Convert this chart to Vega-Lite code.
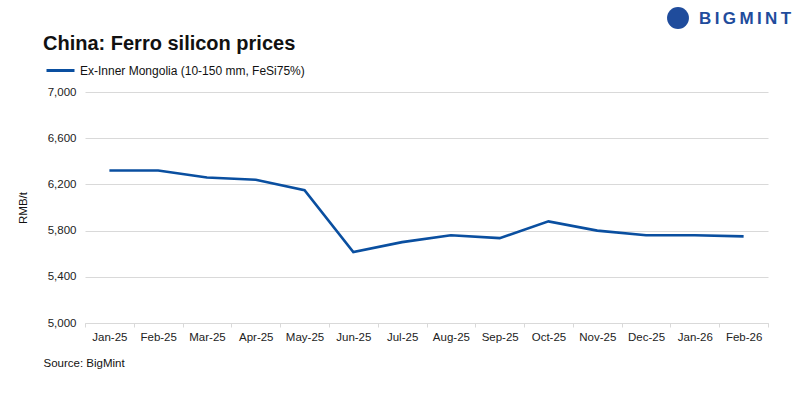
{
  "$schema": "https://vega.github.io/schema/vega-lite/v6.json",
  "width": 683,
  "height": 231,
  "autosize": "none",
  "padding": {"left": 85, "top": 92, "right": 32, "bottom": 76},
  "background": "white",
  "config": {
    "font": "Liberation Sans",
    "view": {"stroke": null}
  },
  "title": {
    "text": "China: Ferro silicon prices",
    "anchor": "start",
    "frame": "group",
    "dx": -42,
    "offset": -47,
    "fontSize": 20,
    "fontWeight": "bold",
    "color": "#111111",
    "font": "Liberation Sans"
  },
  "data": {
    "values": [
      {"month": "Jan-25", "price": 6320, "series": "Ex-Inner Mongolia (10-150 mm, FeSi75%)"},
      {"month": "Feb-25", "price": 6320, "series": "Ex-Inner Mongolia (10-150 mm, FeSi75%)"},
      {"month": "Mar-25", "price": 6260, "series": "Ex-Inner Mongolia (10-150 mm, FeSi75%)"},
      {"month": "Apr-25", "price": 6240, "series": "Ex-Inner Mongolia (10-150 mm, FeSi75%)"},
      {"month": "May-25", "price": 6150, "series": "Ex-Inner Mongolia (10-150 mm, FeSi75%)"},
      {"month": "Jun-25", "price": 5615, "series": "Ex-Inner Mongolia (10-150 mm, FeSi75%)"},
      {"month": "Jul-25", "price": 5700, "series": "Ex-Inner Mongolia (10-150 mm, FeSi75%)"},
      {"month": "Aug-25", "price": 5760, "series": "Ex-Inner Mongolia (10-150 mm, FeSi75%)"},
      {"month": "Sep-25", "price": 5735, "series": "Ex-Inner Mongolia (10-150 mm, FeSi75%)"},
      {"month": "Oct-25", "price": 5880, "series": "Ex-Inner Mongolia (10-150 mm, FeSi75%)"},
      {"month": "Nov-25", "price": 5800, "series": "Ex-Inner Mongolia (10-150 mm, FeSi75%)"},
      {"month": "Dec-25", "price": 5760, "series": "Ex-Inner Mongolia (10-150 mm, FeSi75%)"},
      {"month": "Jan-26", "price": 5760, "series": "Ex-Inner Mongolia (10-150 mm, FeSi75%)"},
      {"month": "Feb-26", "price": 5750, "series": "Ex-Inner Mongolia (10-150 mm, FeSi75%)"}
    ]
  },
  "layer": [
    {
      "mark": {"type": "line", "strokeWidth": 2.6, "strokeJoin": "miter"},
      "encoding": {
        "x": {
          "field": "month",
          "type": "ordinal",
          "sort": null,
          "scale": {"type": "band", "paddingInner": 0, "paddingOuter": 0},
          "axis": {
            "title": "Source: BigMint",
            "titleAnchor": "start",
            "titleAlign": "left",
            "titleX": -42,
            "titleY": 34,
            "titleFontSize": 11.5,
            "titleFontWeight": "normal",
            "titleColor": "#111111",
            "labelAngle": 0,
            "labelFontSize": 11.5,
            "labelColor": "#222222",
            "labelPadding": 4,
            "tickBand": "extent",
            "tickSize": 4,
            "tickColor": "#d9d9d9",
            "domainColor": "#d9d9d9",
            "grid": false
          }
        },
        "y": {
          "field": "price",
          "type": "quantitative",
          "scale": {"domain": [5000, 7000], "nice": false, "zero": false},
          "axis": {
            "values": [5000, 5400, 5800, 6200, 6600, 7000],
            "format": ",.0f",
            "title": "RMB/t",
            "titleFontSize": 11.5,
            "titleFontWeight": "normal",
            "titleColor": "#111111",
            "titlePadding": 19,
            "labelFontSize": 11.5,
            "labelColor": "#222222",
            "labelPadding": 9,
            "ticks": false,
            "domain": false,
            "grid": true,
            "gridColor": "#d9d9d9",
            "gridWidth": 1
          }
        },
        "color": {
          "field": "series",
          "type": "nominal",
          "scale": {"range": ["#0a4fa0"]},
          "legend": {
            "title": null,
            "orient": "none",
            "legendX": -40,
            "legendY": -37,
            "symbolType": "stroke",
            "symbolSize": 784,
            "symbolStrokeWidth": 3,
            "labelFontSize": 12,
            "labelLimit": 0,
            "labelColor": "#111111",
            "labelOffset": 4
          }
        }
      }
    },
    {
      "data": {"values": [{"logo": "B\u2009I\u2009G\u2009M\u2009I\u2009N\u2009T"}]},
      "mark": {"type": "text", "fontSize": 17, "fontWeight": "bold", "color": "#1f4c9c", "align": "left", "baseline": "middle", "font": "Liberation Sans"},
      "encoding": {
        "text": {"field": "logo"},
        "x": {"value": 614},
        "y": {"value": -73}
      }
    },
    {
      "data": {"values": [{"logo": "icon"}]},
      "mark": {"type": "point", "shape": "circle", "filled": true, "size": 480, "opacity": 1, "color": "#1f4c9c"},
      "encoding": {
        "x": {"value": 593},
        "y": {"value": -74}
      }
    }
  ]
}
